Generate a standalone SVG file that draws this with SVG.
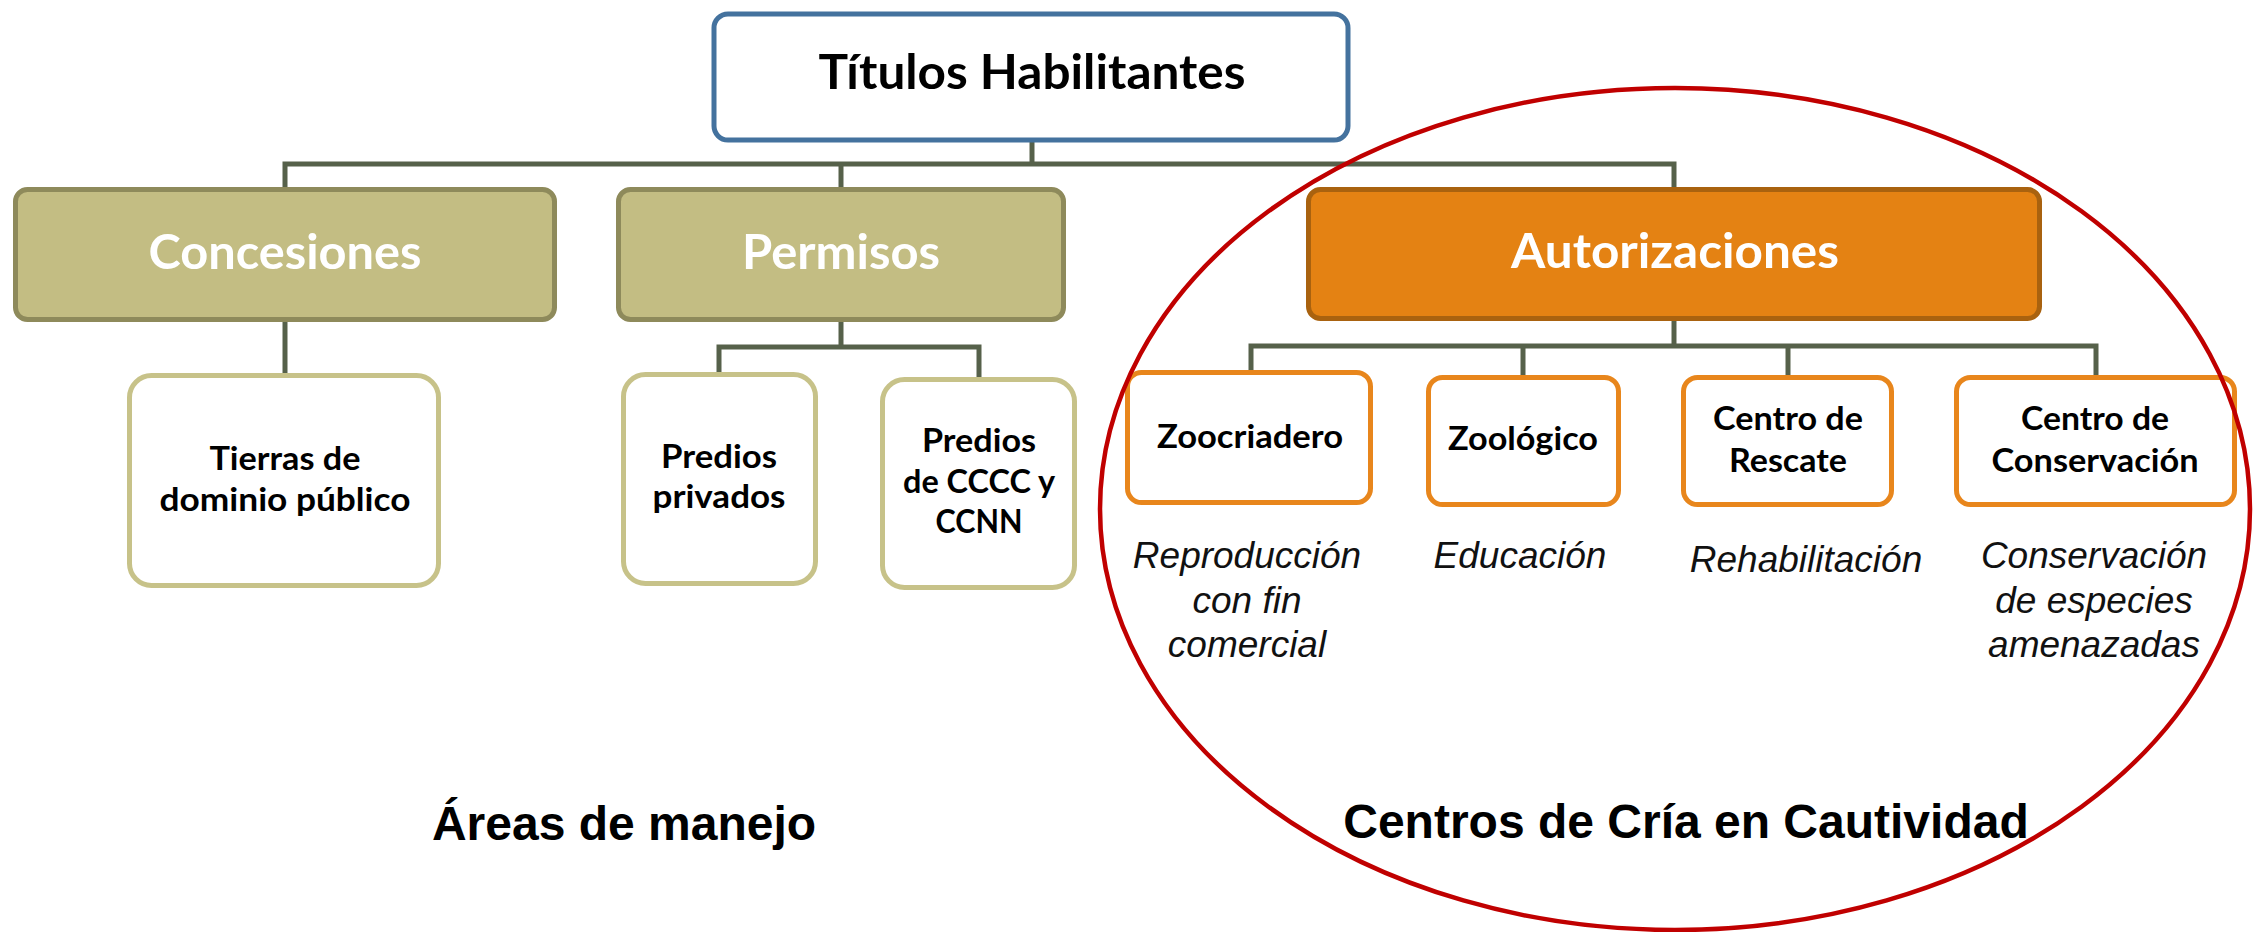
<svg xmlns="http://www.w3.org/2000/svg" width="2258" height="932" viewBox="0 0 2258 932">
<style>
.conn{fill:none;stroke:#56614a;stroke-width:5}
.top{fill:#fff;stroke:#44729e;stroke-width:5}
.olive{fill:#c3bd83;stroke:#8e8a5b;stroke-width:5}
.orange{fill:#e48213;stroke:#a9620f;stroke-width:5}
.leafo{fill:#fff;stroke:#c7c289;stroke-width:5}
.leafr{fill:#fff;stroke:#e8861c;stroke-width:5}
.t{font-family:Lato,"Open Sans","Noto Sans",sans-serif;font-weight:bold;text-anchor:middle}
.big{font-size:48px}
.sm{font-size:33px;fill:#000}
.w{fill:#fff}
.k{fill:#000}
.it{font-family:"Liberation Sans",Arial,sans-serif;font-style:italic;font-size:37px;text-anchor:middle;fill:#111}
.lab{font-family:"Liberation Sans",Arial,sans-serif;font-weight:bold;font-size:48px;text-anchor:middle;fill:#000}
</style>
<rect width="2258" height="932" fill="#fff"/>
<g id="connectors">
<path class="conn" d="M1032,140 V164"/>
<path class="conn" d="M285,188 V164 H1674 V188"/>
<path class="conn" d="M841,164 V188"/>
<path class="conn" d="M285,322 V374"/>
<path class="conn" d="M841,322 V347"/>
<path class="conn" d="M719,373 V347 H979 V378"/>
<path class="conn" d="M1674,320 V346"/>
<path class="conn" d="M1251,371 V346 H2096 V376"/>
<path class="conn" d="M1523,346 V376"/>
<path class="conn" d="M1788,346 V376"/>
</g>
<g id="titulos">
<rect class="top" x="714" y="14" width="634" height="126" rx="14"/>
<text class="t big k" x="1032" y="89" textLength="427" lengthAdjust="spacingAndGlyphs">Títulos Habilitantes</text>
</g>
<g id="concesiones">
<rect class="olive" x="15.5" y="189.5" width="539" height="130" rx="12"/>
<text class="t big w" x="285" y="269" textLength="273" lengthAdjust="spacingAndGlyphs">Concesiones</text>
</g>
<g id="permisos">
<rect class="olive" x="618.5" y="189.5" width="445" height="130" rx="12"/>
<text class="t big w" x="841" y="269" textLength="198" lengthAdjust="spacingAndGlyphs">Permisos</text>
</g>
<g id="autorizaciones">
<rect class="orange" x="1308.5" y="189.5" width="731" height="129" rx="12"/>
<text class="t big w" x="1675" y="268" textLength="328" lengthAdjust="spacingAndGlyphs">Autorizaciones</text>
</g>
<g id="tierras">
<rect class="leafo" x="129.5" y="375.5" width="309" height="210" rx="22"/>
<text class="t sm" x="285" y="470" textLength="151" lengthAdjust="spacingAndGlyphs">Tierras de</text>
<text class="t sm" x="285" y="511" textLength="251" lengthAdjust="spacingAndGlyphs">dominio público</text>
</g>
<g id="predios-privados">
<rect class="leafo" x="623.5" y="374.5" width="192" height="209" rx="22"/>
<text class="t sm" x="719" y="468" textLength="116" lengthAdjust="spacingAndGlyphs">Predios</text>
<text class="t sm" x="719" y="508" textLength="133" lengthAdjust="spacingAndGlyphs">privados</text>
</g>
<g id="predios-cccc">
<rect class="leafo" x="882.5" y="379.5" width="192" height="208" rx="22"/>
<text class="t sm" x="979" y="452" textLength="114" lengthAdjust="spacingAndGlyphs">Predios</text>
<text class="t sm" x="979" y="493" textLength="152" lengthAdjust="spacingAndGlyphs">de CCCC y</text>
<text class="t sm" x="979" y="533" textLength="87" lengthAdjust="spacingAndGlyphs">CCNN</text>
</g>
<g id="zoocriadero">
<rect class="leafr" x="1127.5" y="372.5" width="243" height="130" rx="14"/>
<text class="t sm" x="1250" y="448" textLength="186" lengthAdjust="spacingAndGlyphs">Zoocriadero</text>
<text class="it" x="1247" y="568">Reproducción</text>
<text class="it" x="1247" y="613">con fin</text>
<text class="it" x="1247" y="657">comercial</text>
</g>
<g id="zoologico">
<rect class="leafr" x="1428.5" y="377.5" width="190" height="127" rx="14"/>
<text class="t sm" x="1523" y="450" textLength="150" lengthAdjust="spacingAndGlyphs">Zoológico</text>
<text class="it" x="1520" y="568">Educación</text>
</g>
<g id="rescate">
<rect class="leafr" x="1683.5" y="377.5" width="208" height="127" rx="14"/>
<text class="t sm" x="1788" y="430" textLength="150" lengthAdjust="spacingAndGlyphs">Centro de</text>
<text class="t sm" x="1788" y="472" textLength="118" lengthAdjust="spacingAndGlyphs">Rescate</text>
<text class="it" x="1806" y="572">Rehabilitación</text>
</g>
<g id="conservacion">
<rect class="leafr" x="1956.5" y="377.5" width="278" height="127" rx="14"/>
<text class="t sm" x="2095" y="430" textLength="148" lengthAdjust="spacingAndGlyphs">Centro de</text>
<text class="t sm" x="2095" y="472" textLength="207" lengthAdjust="spacingAndGlyphs">Conservación</text>
<text class="it" x="2094" y="568">Conservación</text>
<text class="it" x="2094" y="613">de especies</text>
<text class="it" x="2094" y="657">amenazadas</text>
</g>
<g id="labels">
<text class="lab" x="624" y="840">Áreas de manejo</text>
<text class="lab" x="1686" y="838">Centros de Cría en Cautividad</text>
</g>
<g id="ellipse">
<ellipse cx="1675" cy="509" rx="575" ry="421" fill="none" stroke="#c00000" stroke-width="4.5"/>
</g>
</svg>
